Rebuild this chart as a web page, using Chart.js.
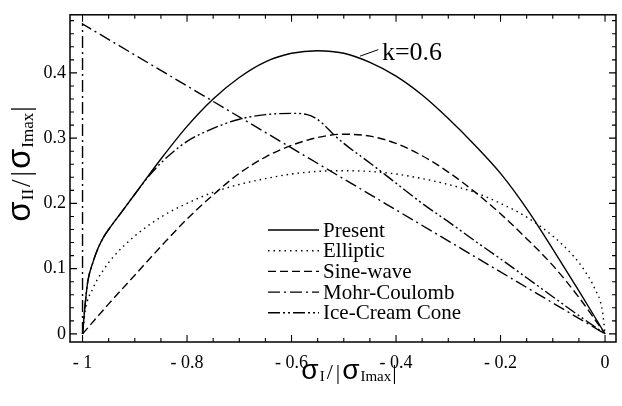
<!DOCTYPE html>
<html>
<head>
<meta charset="utf-8">
<script src="https://cdn.jsdelivr.net/npm/chart.js@4.4.1/dist/chart.umd.min.js"></script>
<style>
  html, body { margin: 0; padding: 0; background: #fff; }
  #wrap { width: 622px; height: 406px; }
</style>
</head>
<body>
<div id="wrap"><canvas id="chart" width="622" height="406"></canvas></div>
<script>
// Axis ticks
const xTicks = [-1, -0.8, -0.6, -0.4, -0.2, 0];
const xTickLabels = ['- 1', '- 0.8', '- 0.6', '- 0.4', '- 0.2', '0'];
const yTicks = [0, 0.1, 0.2, 0.3, 0.4];
const yTickLabels = ['0', '0.1', '0.2', '0.3', '0.4'];

const seriesNames = ['Present', 'Elliptic', 'Sine-wave', 'Mohr-Coulomb', 'Ice-Cream Cone'];

// Present (k = 0.6)
const presentX = [-1, -0.995, -0.99, -0.98, -0.97, -0.96, -0.95, -0.925, -0.9, -0.85, -0.8, -0.75, -0.7, -0.65, -0.6, -0.55, -0.5, -0.45, -0.4, -0.35, -0.3, -0.25, -0.2, -0.15, -0.1, -0.05, 0];
const presentY = [0, 0.045, 0.08, 0.11, 0.132, 0.148, 0.16, 0.187, 0.214, 0.268, 0.318, 0.36, 0.393, 0.417, 0.43, 0.434, 0.43, 0.416, 0.395, 0.366, 0.33, 0.29, 0.246, 0.192, 0.13, 0.066, 0];

// Elliptic
const ellipticX = [-1, -0.995, -0.98, -0.96, -0.94, -0.9, -0.85, -0.8, -0.75, -0.7, -0.65, -0.6, -0.55, -0.5, -0.45, -0.4, -0.35, -0.3, -0.25, -0.2, -0.15, -0.1, -0.06, -0.04, -0.02, -0.005, 0];
const ellipticY = [0, 0.035, 0.07, 0.098, 0.119, 0.15, 0.179, 0.2, 0.217, 0.229, 0.238, 0.245, 0.249, 0.25, 0.249, 0.245, 0.238, 0.229, 0.217, 0.2, 0.179, 0.15, 0.119, 0.098, 0.07, 0.035, 0];

// Sine-wave
const sineX = [-1, -0.95, -0.9, -0.85, -0.8, -0.75, -0.7, -0.65, -0.6, -0.55, -0.5, -0.45, -0.4, -0.35, -0.3, -0.25, -0.2, -0.15, -0.1, -0.05, 0];
const sineY = [0, 0.046, 0.09, 0.134, 0.176, 0.213, 0.246, 0.271, 0.289, 0.301, 0.306, 0.303, 0.292, 0.273, 0.248, 0.218, 0.184, 0.146, 0.105, 0.056, 0];

// Mohr-Coulomb
const mohrX = [-1, -1, 0];
const mohrY = [0, 0.475, 0];

// Ice-Cream Cone
const iceX = [-1, -0.995, -0.99, -0.98, -0.97, -0.96, -0.95, -0.925, -0.9, -0.875, -0.85, -0.825, -0.8, -0.75, -0.7, -0.65, -0.6, -0.57, -0.555, -0.54, -0.52, -0.5, -0.45, -0.4, -0.35, -0.3, -0.25, -0.2, -0.15, -0.1, -0.05, 0];
const iceY = [0, 0.045, 0.08, 0.11, 0.132, 0.148, 0.16, 0.187, 0.214, 0.24, 0.262, 0.28, 0.295, 0.315, 0.329, 0.336, 0.338, 0.336, 0.331, 0.322, 0.306, 0.292, 0.262, 0.231, 0.2, 0.172, 0.143, 0.115, 0.086, 0.057, 0.028, 0];

// "k=0.6" note, in data units
const noteText = 'k=0.6';
const noteLine = [[-0.469, 0.4256], [-0.434, 0.4356]];
const notePos = [-0.427, 0.42];

const SERIF = '"Liberation Serif", "Times New Roman", serif';
const SANS = '"Liberation Sans", Arial, sans-serif';

function pts(xs, ys) {
    return xs.map((x, i) => ({ x: x, y: ys[i] }));
}

function line(label, xs, ys, dash, smooth) {
    return {
        label: label,
        data: pts(xs, ys),
        showLine: true,
        borderColor: '#000',
        borderWidth: 1.4,
        borderDash: dash,
        pointRadius: 0,
        fill: false,
        cubicInterpolationMode: smooth ? 'monotone' : 'default',
        tension: 0
    };
}

// draws a row of text pieces with mixed fonts (for subscripts)
function drawRich(ctx, parts, cx, cy, angle) {
    ctx.save();
    ctx.translate(cx, cy);
    ctx.rotate(angle);
    let total = 0;
    parts.forEach(p => {
        ctx.font = p.font;
        p.w = ctx.measureText(p.text).width;
        total += p.w + (p.gap || 0);
    });
    let x = -total / 2;
    ctx.fillStyle = '#000';
    ctx.textBaseline = 'alphabetic';
    ctx.textAlign = 'left';
    parts.forEach(p => {
        ctx.font = p.font;
        ctx.fillText(p.text, x, p.dy || 0);
        x += p.w + (p.gap || 0);
    });
    ctx.restore();
}

const framePlugin = {
    id: 'framePlugin',
    afterDraw(chart) {
        const ctx = chart.ctx;
        const a = chart.chartArea;
        const xs = chart.scales.x;
        const ys = chart.scales.y;

        ctx.save();
        ctx.strokeStyle = '#000';
        ctx.lineWidth = 1.5;
        ctx.strokeRect(a.left, a.top, a.right - a.left, a.bottom - a.top);

        // inward ticks on all four sides
        ctx.lineWidth = 1.1;
        ctx.beginPath();
        for (let i = 0; i <= 20; i++) {
            const v = -1 + i * 0.05;
            const px = xs.getPixelForValue(v);
            const len = (i % 4 === 0) ? 7 : 4;
            ctx.moveTo(px, a.bottom); ctx.lineTo(px, a.bottom - len);
            ctx.moveTo(px, a.top); ctx.lineTo(px, a.top + len);
        }
        for (let i = 0; i <= 24; i++) {
            const v = i * 0.02;
            const py = ys.getPixelForValue(v);
            const len = (i % 5 === 0) ? 7 : 4;
            ctx.moveTo(a.left, py); ctx.lineTo(a.left + len, py);
            ctx.moveTo(a.right, py); ctx.lineTo(a.right - len, py);
        }
        ctx.stroke();

        // legend
        const lx0 = 268, lx1 = 319, ltx = 323, ly0 = 230, lstep = 20.7;
        ctx.font = '21px ' + SERIF;
        ctx.fillStyle = '#000';
        ctx.textBaseline = 'middle';
        chart.data.datasets.forEach((ds, i) => {
            const y = ly0 + i * lstep;
            ctx.save();
            ctx.lineWidth = ds.borderWidth;
            ctx.setLineDash(ds.borderDash || []);
            ctx.beginPath();
            ctx.moveTo(lx0, y);
            ctx.lineTo(lx1, y);
            ctx.stroke();
            ctx.restore();
            ctx.fillText(ds.label, ltx, y + 1);
        });

        // k=0.6 note
        ctx.lineWidth = 1;
        ctx.beginPath();
        ctx.moveTo(xs.getPixelForValue(noteLine[0][0]), ys.getPixelForValue(noteLine[0][1]));
        ctx.lineTo(xs.getPixelForValue(noteLine[1][0]), ys.getPixelForValue(noteLine[1][1]));
        ctx.stroke();
        ctx.font = '26px ' + SERIF;
        ctx.textBaseline = 'alphabetic';
        ctx.fillText(noteText, xs.getPixelForValue(notePos[0]), ys.getPixelForValue(notePos[1]));
        ctx.restore();

        // axis titles
        drawRich(ctx, [
            { text: 'σ', font: '28px ' + SANS, gap: 1 },
            { text: 'I', font: '15px ' + SERIF, dy: 2, gap: 2 },
            { text: '/', font: '22px ' + SERIF, gap: 3 },
            { text: '|', font: '22px ' + SERIF, gap: 2 },
            { text: 'σ', font: '28px ' + SANS, gap: 1 },
            { text: 'Imax', font: '15px ' + SERIF, dy: 2, gap: 1 },
            { text: '|', font: '22px ' + SERIF }
        ], 349, 379, 0);

        drawRich(ctx, [
            { text: 'σ', font: '33px ' + SANS, gap: 1 },
            { text: 'II', font: '17px ' + SERIF, dy: 3, gap: 2 },
            { text: '/', font: '27px ' + SERIF, gap: 3 },
            { text: '|', font: '27px ' + SERIF, gap: 2 },
            { text: 'σ', font: '33px ' + SANS, gap: 1 },
            { text: 'Imax', font: '17px ' + SERIF, dy: 3, gap: 1 },
            { text: '|', font: '27px ' + SERIF }
        ], 30, 164, -Math.PI / 2);
    }
};

Chart.defaults.font.family = SERIF;
Chart.defaults.color = '#000';

new Chart(document.getElementById('chart'), {
    type: 'scatter',
    data: {
        datasets: [
            line(seriesNames[0], presentX, presentY, [], true),
            line(seriesNames[1], ellipticX, ellipticY, [1.5, 4], true),
            line(seriesNames[2], sineX, sineY, [8, 4], true),
            line(seriesNames[3], mohrX, mohrY, [12, 4, 2, 4], false),
            line(seriesNames[4], iceX, iceY, [12, 3, 2, 3, 2, 3], true)
        ]
    },
    options: {
        responsive: false,
        animation: false,
        layout: { padding: { top: 3, right: 6, left: 0, bottom: 0 } },
        plugins: {
            legend: { display: false },
            tooltip: { enabled: false }
        },
        scales: {
            x: {
                type: 'linear',
                min: -1.024,
                max: 0.021,
                grid: { display: false, drawTicks: false },
                border: { display: false },
                afterBuildTicks: s => { s.ticks = xTicks.map(v => ({ value: v })); },
                afterFit: s => { s.height = 64; },
                ticks: {
                    padding: 10,
                    maxRotation: 0,
                    font: { family: SERIF, size: 18 },
                    callback: (v) => xTickLabels[xTicks.indexOf(v)]
                }
            },
            y: {
                type: 'linear',
                min: -0.0124,
                max: 0.489,
                grid: { display: false, drawTicks: false },
                border: { display: false },
                afterBuildTicks: s => { s.ticks = yTicks.map(v => ({ value: v })); },
                afterFit: s => { s.width = 70; },
                ticks: {
                    padding: 4,
                    font: { family: SERIF, size: 18 },
                    callback: (v) => yTickLabels[yTicks.indexOf(v)]
                }
            }
        }
    },
    plugins: [framePlugin]
});
</script>
</body>
</html>
